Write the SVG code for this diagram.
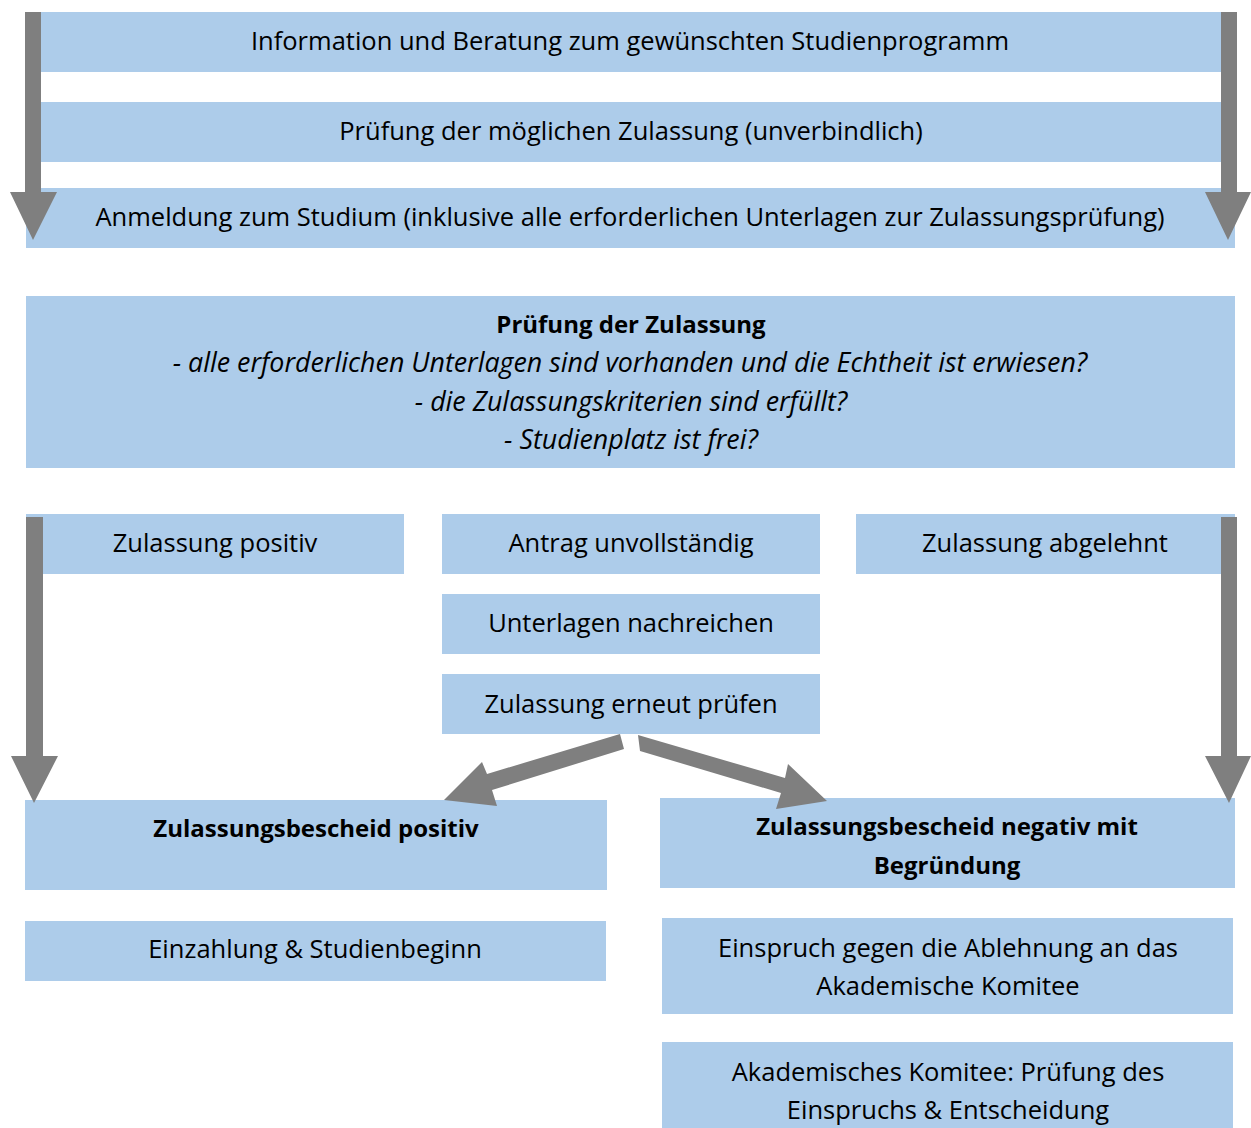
<svg xmlns="http://www.w3.org/2000/svg" width="1251" height="1128" viewBox="0 0 1251 1128">
<style>
.box{fill:#ADCCEA}
.t{font-family:"Open Sans","Noto Sans",sans-serif;font-size:25.5px;fill:#000;text-anchor:middle}
.b{font-weight:bold;font-size:24px}
.i{font-style:italic;font-size:26.8px}
.arr{fill:#7F7F7F}
</style>
<rect width="1251" height="1128" fill="#fff"/>
<g id="n1"><rect class="box" x="41" y="12" width="1180" height="60"/><text class="t" x="630" y="50">Information und Beratung zum gewünschten Studienprogramm</text></g>
<g id="n2"><rect class="box" x="41" y="102" width="1180" height="60"/><text class="t" x="631" y="140">Prüfung der möglichen Zulassung (unverbindlich)</text></g>
<g id="n3"><rect class="box" x="26" y="188" width="1209" height="60"/><text class="t" x="630" y="226">Anmeldung zum Studium (inklusive alle erforderlichen Unterlagen zur Zulassungsprüfung)</text></g>
<g id="n4"><rect class="box" x="26" y="296" width="1209" height="172"/>
<text class="t b" x="631" y="333">Prüfung der Zulassung</text>
<text class="t i" x="630" y="372">- alle erforderlichen Unterlagen sind vorhanden und die Echtheit ist erwiesen?</text>
<text class="t i" x="631" y="411">- die Zulassungskriterien sind erfüllt?</text>
<text class="t i" x="631" y="449">- Studienplatz ist frei?</text></g>
<g id="n5"><rect class="box" x="26" y="514" width="378" height="60"/><text class="t" x="215" y="552">Zulassung positiv</text></g>
<g id="n6"><rect class="box" x="442" y="514" width="378" height="60"/><text class="t" x="631" y="552">Antrag unvollständig</text></g>
<g id="n7"><rect class="box" x="856" y="514" width="379" height="60"/><text class="t" x="1045" y="552">Zulassung abgelehnt</text></g>
<g id="n8"><rect class="box" x="442" y="594" width="378" height="60"/><text class="t" x="631" y="632">Unterlagen nachreichen</text></g>
<g id="n9"><rect class="box" x="442" y="674" width="378" height="60"/><text class="t" x="631" y="713">Zulassung erneut prüfen</text></g>
<g id="n10"><rect class="box" x="25" y="800" width="582" height="90"/><text class="t b" x="316" y="837">Zulassungsbescheid positiv</text></g>
<g id="n11"><rect class="box" x="660" y="798" width="575" height="90"/><text class="t b" x="947" y="835">Zulassungsbescheid negativ mit</text><text class="t b" x="947" y="874">Begründung</text></g>
<g id="n12"><rect class="box" x="25" y="921" width="581" height="60"/><text class="t" x="315" y="958">Einzahlung &amp; Studienbeginn</text></g>
<g id="n13"><rect class="box" x="662" y="918" width="571" height="96"/><text class="t" x="948" y="957">Einspruch gegen die Ablehnung an das</text><text class="t" x="948" y="995">Akademische Komitee</text></g>
<g id="n14"><rect class="box" x="662" y="1042" width="571" height="86"/><text class="t" x="948" y="1081">Akademisches Komitee: Prüfung des</text><text class="t" x="948" y="1119">Einspruchs &amp; Entscheidung</text></g>
<g id="connectors">
<polygon class="arr" points="25,12 41,12 41,192 57,192 33,240 10,192 25,192"/>
<polygon class="arr" points="1221,12 1237,12 1237,192 1251,192 1228,240 1205,192 1221,192"/>
<polygon class="arr" points="26,517 43,517 43,756 58,756 34,803 11,756 26,756"/>
<polygon class="arr" points="1221,517 1237,517 1237,756 1251,756 1229,803 1205,756 1221,756"/>
<polygon class="arr" points="620,734 624,749 492,790 497,806 444,800 482,762 487,774"/>
<polygon class="arr" points="638,735 640,751 781,793 776,809 827,801 788,764 785,778"/>
</g>
</svg>
